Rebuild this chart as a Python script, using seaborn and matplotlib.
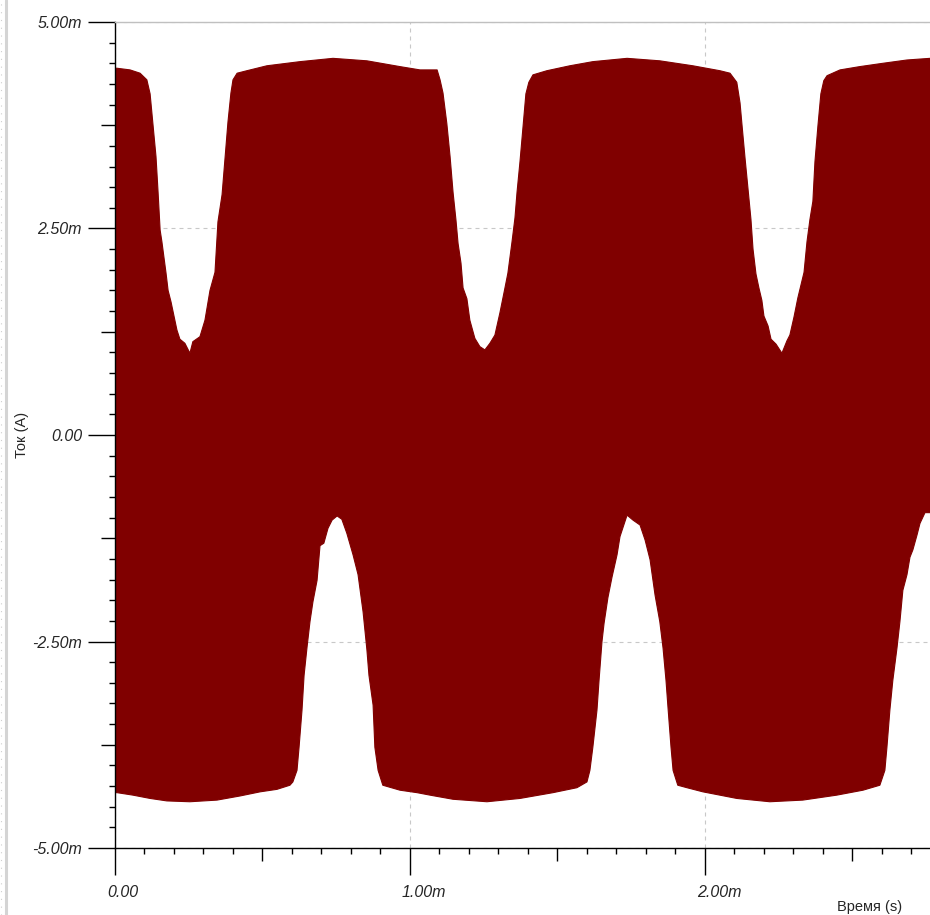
import matplotlib
matplotlib.use("Agg")
import matplotlib.pyplot as plt
import matplotlib.transforms as mtransforms
from matplotlib.lines import Line2D
from matplotlib.ticker import MultipleLocator
import numpy as np
import pandas as pd
import seaborn as sns

# time in ms, current in mA
t_upper = [0.0, 0.007, 0.051, 0.085, 0.108, 0.119, 0.129, 0.139, 0.146, 0.153, 0.159,
           0.173, 0.180, 0.190, 0.210, 0.220, 0.237, 0.254, 0.264, 0.288, 0.305,
           0.322, 0.339, 0.349, 0.363, 0.373, 0.383, 0.393, 0.400, 0.414, 0.447,
           0.515, 0.627, 0.739, 0.854, 0.966, 1.034, 1.092, 1.102, 1.112, 1.125,
           1.136, 1.146, 1.156, 1.163, 1.173, 1.180, 1.193, 1.203, 1.220, 1.237,
           1.254, 1.271, 1.288, 1.305, 1.322, 1.332, 1.346, 1.356, 1.363, 1.373,
           1.383, 1.393, 1.403, 1.417, 1.464, 1.542, 1.620, 1.736, 1.847, 1.959,
           2.051, 2.085, 2.108, 2.119, 2.125, 2.136, 2.146, 2.156, 2.163, 2.173,
           2.183, 2.193, 2.200, 2.214, 2.224, 2.241, 2.261, 2.278, 2.288, 2.302,
           2.315, 2.336, 2.346, 2.356, 2.366, 2.373, 2.383, 2.393, 2.403, 2.414,
           2.458, 2.525, 2.603, 2.685, 2.763]
i_upper = [4.44, 4.44, 4.42, 4.38, 4.30, 4.13, 3.75, 3.37, 2.94, 2.48, 2.34,
           1.96, 1.75, 1.61, 1.27, 1.16, 1.11, 0.99, 1.13, 1.19, 1.39,
           1.75, 1.97, 2.58, 2.91, 3.35, 3.79, 4.14, 4.30, 4.38, 4.41,
           4.47, 4.52, 4.56, 4.53, 4.46, 4.42, 4.42, 4.30, 4.14, 3.77,
           3.37, 2.94, 2.60, 2.32, 2.08, 1.78, 1.65, 1.39, 1.17, 1.07,
           1.03, 1.11, 1.21, 1.48, 1.78, 1.96, 2.34, 2.63, 2.94, 3.31,
           3.72, 4.13, 4.27, 4.36, 4.41, 4.47, 4.52, 4.56, 4.53, 4.47,
           4.41, 4.38, 4.27, 4.02, 3.78, 3.35, 2.98, 2.61, 2.25, 1.95,
           1.78, 1.63, 1.44, 1.32, 1.16, 1.10, 0.99, 1.14, 1.21, 1.43,
           1.66, 1.97, 2.34, 2.61, 2.83, 3.31, 3.74, 4.13, 4.29, 4.35,
           4.42, 4.46, 4.50, 4.54, 4.56]

t_lower = [0.0, 0.007, 0.061, 0.119, 0.176, 0.254, 0.346, 0.424, 0.492, 0.549, 0.593,
           0.603, 0.617, 0.624, 0.634, 0.641, 0.651, 0.661, 0.671, 0.685, 0.695,
           0.708, 0.722, 0.736, 0.753, 0.769, 0.786, 0.807, 0.824, 0.841, 0.854,
           0.861, 0.875, 0.881, 0.892, 0.908, 0.966, 1.024, 1.068, 1.146, 1.261,
           1.373, 1.485, 1.566, 1.600, 1.610, 1.620, 1.634, 1.641, 1.651, 1.658,
           1.671, 1.685, 1.702, 1.712, 1.736, 1.756, 1.780, 1.797, 1.814, 1.831,
           1.847, 1.858, 1.868, 1.875, 1.885, 1.892, 1.908, 1.939, 1.993, 2.108,
           2.220, 2.332, 2.447, 2.536, 2.593, 2.610, 2.617, 2.627, 2.637, 2.651,
           2.661, 2.671, 2.685, 2.695, 2.705, 2.719, 2.729, 2.746, 2.763]
i_lower = [-4.33, -4.33, -4.36, -4.40, -4.43, -4.44, -4.42, -4.37, -4.32, -4.29, -4.24,
           -4.20, -4.06, -3.78, -3.33, -2.91, -2.57, -2.26, -2.02, -1.76, -1.34,
           -1.31, -1.13, -1.03, -0.98, -1.02, -1.19, -1.45, -1.69, -2.14, -2.60,
           -2.91, -3.27, -3.78, -4.06, -4.24, -4.30, -4.33, -4.36, -4.41, -4.44,
           -4.40, -4.33, -4.27, -4.20, -4.06, -3.78, -3.33, -2.97, -2.50, -2.28,
           -1.97, -1.72, -1.45, -1.23, -0.97, -1.03, -1.09, -1.27, -1.51, -1.94,
           -2.26, -2.58, -2.97, -3.31, -3.78, -4.06, -4.24, -4.27, -4.32, -4.40,
           -4.44, -4.42, -4.36, -4.30, -4.24, -4.06, -3.78, -3.33, -2.97, -2.58,
           -2.26, -1.88, -1.69, -1.48, -1.39, -1.21, -1.07, -0.94, -0.94]

x_ticks = [0.0, 0.5, 1.0, 1.5, 2.0, 2.5]
x_labels = ["0.00", "", "1.00m", "", "2.00m", ""]
y_ticks = [-5.0, -3.75, -2.5, -1.25, 0.0, 1.25, 2.5, 3.75, 5.0]
y_labels = ["-5.00m", "", "-2.50m", "", "0.00", "", "2.50m", "", "5.00m"]

TRACE = "#800000"
PX = 0.72  # points per pixel at dpi 100

sns.set_style("ticks")
plt.rcParams["font.family"] = ["Liberation Sans", "DejaVu Sans"]

fig = plt.figure(figsize=(9.3, 9.15), dpi=100)
ax = fig.add_axes([115 / 930, 1 - 848 / 915, 1 - 115 / 930, (848 - 22) / 915])

upper = pd.DataFrame({"time": t_upper, "current": i_upper})
lower = pd.DataFrame({"time": t_lower, "current": i_lower})

poly_t = np.concatenate([upper["time"].values, lower["time"].values[::-1]])
poly_i = np.concatenate([upper["current"].values, lower["current"].values[::-1]])
ax.fill(poly_t, poly_i, color=TRACE, lw=0, zorder=2)
sns.lineplot(data=upper, x="time", y="current", color=TRACE, lw=0.8, ax=ax, zorder=2)
sns.lineplot(data=lower, x="time", y="current", color=TRACE, lw=0.8, ax=ax, zorder=2)

ax.set_xlim(0, 2.763)
ax.set_ylim(-5, 5)
ax.set_xlabel("")
ax.set_ylabel("")

ax.set_xticks(x_ticks)
ax.set_xticklabels(x_labels)
ax.set_yticks(y_ticks)
ax.set_yticklabels(y_labels)
ax.xaxis.set_minor_locator(MultipleLocator(0.1))
ax.yaxis.set_minor_locator(MultipleLocator(0.25))

ax.tick_params(which="major", length=27 * PX, width=1.0, color="black",
               labelsize=11.5, direction="out")
ax.tick_params(axis="y", which="major", pad=6 * PX)
ax.tick_params(axis="x", which="major", pad=10 * PX)
ax.tick_params(which="minor", length=6 * PX, width=1.0, color="black", direction="out")
for lab in ax.get_xticklabels() + ax.get_yticklabels():
    lab.set_fontstyle("italic")

ax.grid(True, which="major", color="#c8c8c8", lw=0.8, linestyle=(0, (3.6, 3.6)))
ax.set_axisbelow(True)

for tick, v in zip(ax.xaxis.get_major_ticks(), x_ticks):
    if v % 1.0 != 0:
        tick.tick1line.set_markersize(13 * PX)
        tick.gridline.set_visible(False)
for tick, v in zip(ax.yaxis.get_major_ticks(), y_ticks):
    if v % 2.5 != 0:
        tick.tick1line.set_markersize(14 * PX)
        tick.gridline.set_visible(False)

shift = mtransforms.ScaledTranslation(-8 / 100, 0, fig.dpi_scale_trans)
for lab in ax.get_xticklabels():
    lab.set_horizontalalignment("left")
    lab.set_transform(lab.get_transform() + shift)

for side in ["left", "bottom"]:
    ax.spines[side].set_color("black")
    ax.spines[side].set_linewidth(1.0)
ax.spines["top"].set_color("#c0c0c0")
ax.spines["top"].set_linewidth(1.0)
ax.spines["right"].set_visible(False)

fig.text(22 / 930, 1 - 435 / 915, "Ток (A)", rotation=90, fontsize=10.5,
         ha="center", va="center")
fig.text(837 / 930, 1 - 914 / 915, "Время (s)", fontsize=10.5, ha="left", va="bottom")

# window frame on the left edge
fig.add_artist(Line2D([5.5 / 930, 5.5 / 930], [0, 1], color="#d4d4d4", lw=2.2,
                      transform=fig.transFigure))
fig.add_artist(Line2D([1 / 930, 1 / 930], [0, 1], color="#cfcfcf", lw=0.8,
                      linestyle=(0, (1, 6)), transform=fig.transFigure))

fig.savefig("out.png", dpi=100)
